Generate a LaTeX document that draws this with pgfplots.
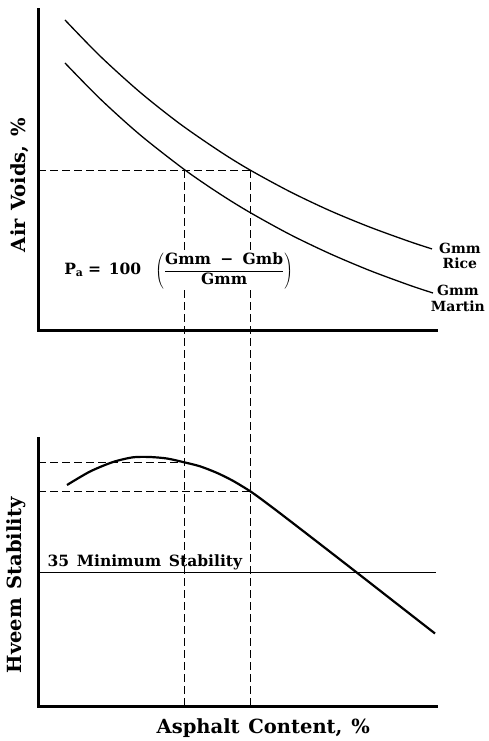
\documentclass[border=0pt]{standalone}
\usepackage{pgfplots}
\pgfplotsset{compat=1.18}
\usepackage{fontspec}
\setmainfont{DejaVu Serif}
\pgfplotsset{mystyle/.style={scale only axis, width=398pt, axis lines*=left,
  xtick=\empty, ytick=\empty, xmin=0, xmax=10,
  axis line style={line width=3pt, line cap=rect}, clip=false, anchor=south west,
  label style={font=\bfseries\fontsize{19.5}{21}\selectfont}}}
\begin{document}
\begin{tikzpicture}
\useasboundingbox (0pt,0pt) rectangle (488pt,-741pt);
% ---------- top axis: air voids ----------
\begin{axis}[mystyle, at={(38pt,-330pt)}, height=320pt, ymin=0, ymax=10,
  ylabel={Air\hspace{0.45em}Voids,\hspace{0.45em}\%},
  ylabel style={at={(axis description cs:-0.047,0.453)}, anchor=center}]
\addplot[black, line width=1.3pt, smooth, tension=0.5] coordinates {
  (0.678,9.688) (1.558,8.563) (2.563,7.431) (3.568,6.441) (4.573,5.578)
  (5.327,5.0) (6.332,4.322) (7.337,3.728) (8.342,3.213) (9.347,2.759) (9.899,2.534)};
\addplot[black, line width=1.3pt, smooth, tension=0.5] coordinates {
  (0.678,8.344) (1.558,7.228) (2.563,6.100) (3.693,5.0) (4.573,4.250)
  (5.327,3.672) (6.332,2.984) (7.337,2.384) (8.342,1.856) (9.347,1.394) (9.925,1.156)};
\addplot[black, line width=0.9pt, dash pattern=on 8pt off 4pt] coordinates {(0,5) (5.327,5)};
\addplot[black, line width=0.9pt, dash pattern=on 8pt off 4pt] coordinates {(3.69,5) (3.69,-11.75)};
\addplot[black, line width=0.9pt, dash pattern=on 8pt off 4pt] coordinates {(5.327,5) (5.327,-11.75)};
\node[anchor=west, fill=white, inner sep=1pt, font=\bfseries\fontsize{15.5}{17}\selectfont]
  at (axis cs:0.63,1.85)
  {P\textsubscript{a}\hspace{0.3em}=\hspace{0.5em}100\hspace{0.9em}$\displaystyle\left(\frac{\mbox{Gmm\hspace{0.6em}−\hspace{0.6em}Gmb}}{\mbox{Gmm}}\right)$};
\node[align=center, inner sep=0pt, font=\bfseries\fontsize{14}{15.5}\selectfont]
  at (axis cs:10.6,2.31) {Gmm\\Rice};
\node[align=center, inner sep=0pt, font=\bfseries\fontsize{14}{15.5}\selectfont]
  at (axis cs:10.55,0.98) {Gmm\\Martin};
\end{axis}
% ---------- bottom axis: Hveem stability ----------
\begin{axis}[mystyle, at={(38pt,-706pt)}, height=268pt, ymin=0, ymax=70,
  ylabel={Hveem\hspace{0.45em}Stability},
  ylabel style={at={(axis description cs:-0.055,0.45)}, anchor=center},
  xlabel={Asphalt\hspace{0.45em}Content,\hspace{0.45em}\%},
  xlabel style={at={(axis description cs:0.566,-0.082)}, anchor=center}]
\addplot[black, line width=2.2pt, smooth, tension=0.45] coordinates {
  (0.729,57.73) (1.307,61.25) (1.884,63.73) (2.387,64.96) (2.814,65.04)
  (3.241,64.65) (3.643,63.73) (4.070,62.61) (4.497,60.89) (4.899,58.82)
  (5.327,56.13) (5.578,54.28) (6.080,50.36) (6.910,43.72) (8.015,34.82)
  (9.020,26.67) (9.975,18.94)};
\addplot[black, line width=0.9pt, dash pattern=on 8pt off 4pt] coordinates {(0,63.7) (3.69,63.7)};
\addplot[black, line width=0.9pt, dash pattern=on 8pt off 4pt] coordinates {(0,56.13) (5.327,56.13)};
\addplot[black, line width=1pt] coordinates {(0,35) (10,35)};
\node[anchor=south west, inner sep=1.5pt, font=\bfseries\fontsize{15.5}{17}\selectfont]
  at (axis cs:0.2,35) {35\hspace{0.5em}Minimum\hspace{0.5em}Stability};
\end{axis}
\end{tikzpicture}
\end{document}
